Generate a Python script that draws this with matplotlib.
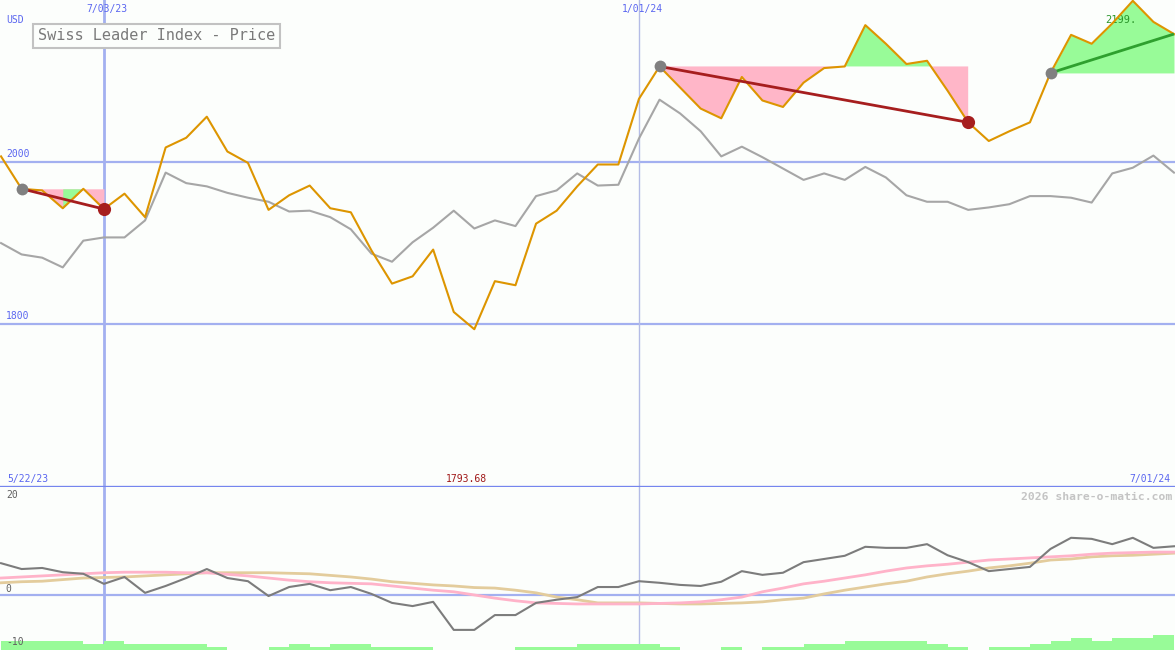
import numpy as np
import matplotlib
matplotlib.use('Agg')
import matplotlib.pyplot as plt
import matplotlib.transforms as mtransforms

# weekly closes, Swiss Leader Index (orange) and comparison line (gray)
price = [2007, 1967, 1965, 1943, 1967, 1942, 1961, 1932, 2018, 2030,
         2056, 2013, 1999, 1941, 1959, 1971, 1943, 1938, 1891, 1850,
         1859, 1892, 1815, 1793.68, 1853, 1848, 1924, 1940, 1970, 1997,
         1997, 2078, 2118, 2092, 2066, 2054, 2105, 2076, 2068, 2098,
         2116, 2118, 2169, 2146, 2121, 2125, 2088, 2049, 2026, 2038,
         2049, 2110, 2157, 2146, 2171, 2199, 2173, 2158]
compare = [1900, 1886, 1882, 1870, 1903, 1907, 1907, 1928, 1987, 1974,
           1970, 1962, 1956, 1951, 1939, 1940, 1932, 1917, 1887, 1877,
           1901, 1919, 1940, 1918, 1928, 1921, 1958, 1965, 1986, 1971,
           1972, 2029, 2077, 2060, 2038, 2007, 2019, 2006, 1992, 1978,
           1986, 1978, 1994, 1981, 1959, 1951, 1951, 1941, 1944, 1948,
           1958, 1958, 1956, 1950, 1986, 1993, 2008, 1987]

# lower panel oscillator
osc = [6.0, 4.9, 5.1, 4.3, 4.0, 2.1, 3.4, 0.4, 1.7, 3.2,
       4.9, 3.2, 2.6, -0.2, 1.5, 2.1, 0.9, 1.5, 0.2, -1.5,
       -2.1, -1.3, -6.6, -6.6, -3.8, -3.8, -1.5, -0.9, -0.4, 1.5,
       1.5, 2.6, 2.3, 1.9, 1.7, 2.5, 4.5, 3.8, 4.2, 6.2,
       6.8, 7.4, 9.1, 8.9, 8.9, 9.6, 7.5, 6.2, 4.5, 4.9,
       5.3, 8.7, 10.8, 10.6, 9.6, 10.8, 8.9, 9.2]
osc_fast = [3.2, 3.4, 3.6, 3.8, 4.0, 4.2, 4.3, 4.3, 4.3, 4.2,
            4.2, 3.9, 3.6, 3.2, 2.8, 2.5, 2.3, 2.2, 2.1, 1.7,
            1.3, 0.9, 0.6, 0.0, -0.6, -1.1, -1.5, -1.6, -1.7, -1.7,
            -1.7, -1.7, -1.6, -1.5, -1.3, -0.9, -0.4, 0.6, 1.3, 2.1,
            2.6, 3.2, 3.8, 4.5, 5.1, 5.5, 5.8, 6.2, 6.6, 6.8,
            7.0, 7.2, 7.4, 7.7, 7.9, 8.0, 8.1, 8.1]
osc_slow = [2.3, 2.5, 2.6, 2.9, 3.2, 3.3, 3.4, 3.6, 3.8, 4.0,
            4.2, 4.2, 4.2, 4.2, 4.1, 4.0, 3.7, 3.4, 3.0, 2.5,
            2.2, 1.9, 1.7, 1.4, 1.3, 0.9, 0.4, -0.4, -0.9, -1.5,
            -1.5, -1.5, -1.6, -1.7, -1.7, -1.6, -1.5, -1.3, -0.9, -0.6,
            0.2, 0.9, 1.5, 2.1, 2.6, 3.4, 4.0, 4.5, 5.1, 5.5,
            6.0, 6.6, 6.8, 7.2, 7.4, 7.5, 7.7, 7.9]
vol_level = [3, 3, 3, 3, 2, 3, 2, 2, 2, 2,
             1, 0, 0, 1, 2, 1, 2, 2, 1, 1,
             1, 0, 0, 0, 0, 1, 1, 1, 2, 2,
             2, 2, 1, 0, 0, 1, 0, 1, 1, 2,
             2, 3, 3, 3, 3, 2, 1, 0, 1, 1,
             2, 3, 4, 3, 4, 4, 5]

# signals: (start index, end index, closed?)
signals = [(1, 5, True), (32, 47, True), (51, 57, False)]
green_override = [(3, 4)]  # segment drawn green in the first signal

top_ticks = [(5, '7/03/23'), (31, '1/01/24')]
first_label = '5/22/23'
last_label = '7/01/24'
osc_labels = [(20, 18.9), (0, 1.1), (-10, -8.9)]  # (text, position)

bg = '#fcfefc'
blue_grid = '#a3b0f0'
orange = '#dd9500'
pink = '#ffb6c8'
green = '#98fb98'

fig = plt.figure(figsize=(11.75, 6.5), dpi=100, facecolor=bg)
ax = fig.add_axes([0, 163 / 650, 1, 487 / 650], facecolor=bg)
ax2 = fig.add_axes([0, 0, 1, 163 / 650], facecolor=bg, sharex=ax)
ax3 = ax2.twinx()

x = np.arange(len(price))
p = np.array(price)

ax.set_xlim(-0.05, 57.05)
ax.set_ylim(1599, 2200)
ax2.set_ylim(-10.4, 20.4)
ax3.set_ylim(0, 163 / 3)

for a in (ax, ax2, ax3):
    for s in a.spines.values():
        s.set_visible(False)
    a.set_xticks([])
    a.set_yticks([])
ax3.patch.set_visible(False)

# grid
for lvl in (2000, 1800):
    ax.axhline(lvl, color=blue_grid, lw=1.6, zorder=1)
ax2.axhline(0, color=blue_grid, lw=1.6, zorder=1)
for a in (ax, ax2):
    a.axvline(5, color=blue_grid, lw=2.0, zorder=1)
    a.axvline(31, color='#b4bce6', lw=1.0, zorder=1)
ax.axhline(1599, color='#7585ee', lw=2.4, zorder=5, clip_on=False)

# signal fills
for s, e, closed in signals:
    xs = x[s:e + 1]
    ys = p[s:e + 1]
    lvl = p[s]
    ax.fill_between(xs, ys, lvl, where=ys <= lvl, interpolate=True,
                    color=pink, lw=0, zorder=2)
    ax.fill_between(xs, ys, lvl, where=ys >= lvl, interpolate=True,
                    color=green, lw=0, zorder=2)
for a0, b0 in green_override:
    ax.fill_between(x[a0:b0 + 1], p[a0:b0 + 1], p[signals[0][0]],
                    color=green, lw=0, zorder=2)

ax.plot(x, compare, color='#a6a6a6', lw=1.5, zorder=3)
ax.plot(x, price, color=orange, lw=1.5, zorder=4)

for s, e, closed in signals:
    lc = '#a61e1e' if closed else '#2ea02e'
    ax.plot([s, e], [price[s], price[e]], color=lc, lw=2.0, zorder=5,
            solid_capstyle='butt')
    ax.plot(s, price[s], 'o', ms=8.5, color='#808080', mec='none', zorder=6)
    if closed:
        ax.plot(e, price[e], 'o', ms=9.5, color='#a61e1e', mec='none', zorder=6)

# lower panel
ax3.bar(x[:len(vol_level)], vol_level, width=1.0, align='edge',
        color=green, lw=0, zorder=1)
ax2.plot(x, osc_slow, color='#e3cc9c', lw=2.0, zorder=3)
ax2.plot(x, osc_fast, color='#ffb3c9', lw=2.0, zorder=3)
ax2.plot(x, osc, color='#7c7c7c', lw=1.5, zorder=4)

mono = 'DejaVu Sans Mono'
lab_blue = '#5a66f0'
ty = ax.get_yaxis_transform()
tx = ax.get_xaxis_transform()
ax.text(0.005, 1 - 20 / 487, 'USD', transform=ax.transAxes, fontsize=7,
        color=lab_blue, family=mono, va='center', ha='left')
for lvl in (2000, 1800):
    ax.text(0.005, lvl + 4, str(lvl), transform=ty, fontsize=7,
            color=lab_blue, family=mono, va='bottom', ha='left')
for i, t in top_ticks:
    ax.text(i + 0.15, 1 - 9 / 487, t, transform=tx, fontsize=7,
            color=lab_blue, family=mono, va='center', ha='center')
ax.text(0.006, 8 / 487, first_label, transform=ax.transAxes, fontsize=7,
        color=lab_blue, family=mono, va='center', ha='left')
ax.text(0.996, 8 / 487, last_label, transform=ax.transAxes, fontsize=7,
        color=lab_blue, family=mono, va='center', ha='right')

imin = int(np.argmin(p))
imax = int(np.argmax(p))
ax.text(imin - 0.4, 8 / 487, '%.2f' % p.min(), transform=tx, fontsize=7,
        color='#a01818', family=mono, va='center', ha='center')
ax.text(imax - 0.6, 1 - 20 / 487, '%d.' % p.max(), transform=tx, fontsize=7.5,
        color='#2a962a', family=mono, va='center', ha='center')

# labels of the lower panel go on the top (bar) axes so the bars don't hide them
ty2 = mtransforms.blended_transform_factory(ax2.transAxes, ax2.transData)
for t, pos in osc_labels:
    ax3.text(0.005, pos, str(t), transform=ty2, fontsize=7, zorder=5,
             color='#606060', family=mono, va='center', ha='left')
ax3.text(0.998, 1 - 10 / 163, '2026 share-o-matic.com', transform=ax2.transAxes,
         fontsize=8.2, color='#c4c4c4', family=mono, weight='bold',
         va='center', ha='right')

fig.text(38 / 1175, 1 - 36 / 650, 'Swiss Leader Index - Price', fontsize=11,
         color='#7a7a7a', family=mono, va='center', ha='left',
         bbox=dict(boxstyle='square,pad=0.3', fc=bg, ec='#c2c2c2', lw=1.5))

fig.savefig('out.png', dpi=100, facecolor=bg)
